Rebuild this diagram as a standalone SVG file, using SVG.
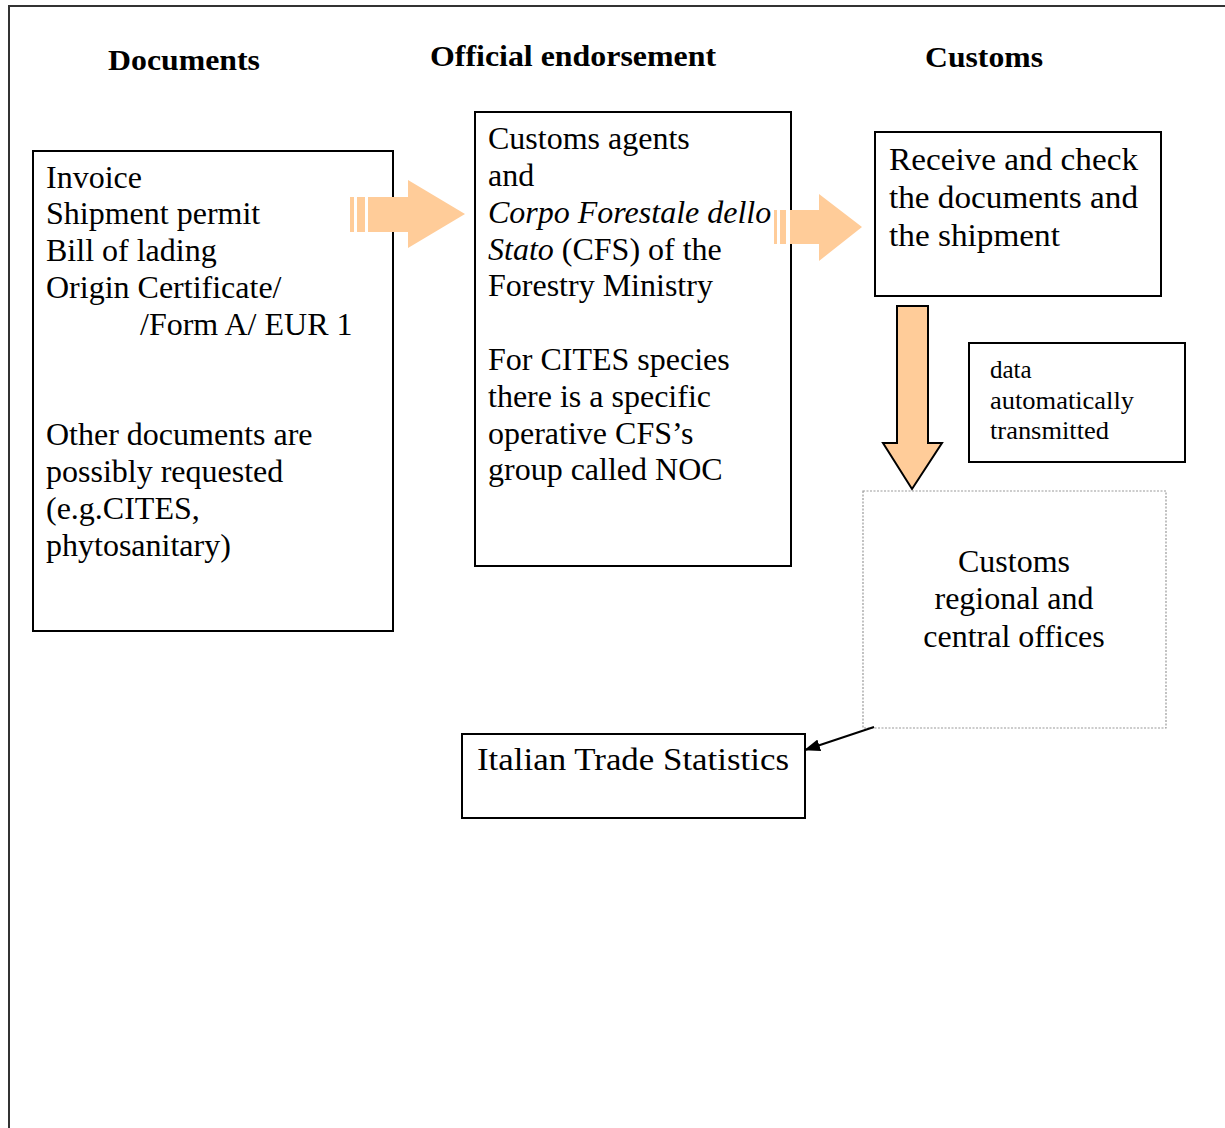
<svg xmlns="http://www.w3.org/2000/svg" width="1225" height="1128" viewBox="0 0 1225 1128">
<defs>
<style>
.t{font-family:"Liberation Serif","Times New Roman",serif;font-size:32px;fill:#000}
.h{font-family:"Liberation Serif","Times New Roman",serif;font-size:29px;font-weight:bold;fill:#000}
.s{font-family:"Liberation Serif","Times New Roman",serif;font-size:25px;fill:#000}
.box{fill:#fff;stroke:#000;stroke-width:2}
.dash{fill:#fff;stroke:#999;stroke-width:1.2;stroke-dasharray:2 1.5}
.ar{fill:#FFCC99}
</style>
<marker id="ah" viewBox="0 0 16 12" refX="15" refY="6" markerWidth="16" markerHeight="12" markerUnits="userSpaceOnUse" orient="auto">
<path d="M0,0 L16,6 L0,12 z" fill="#000"/>
</marker>
</defs>
<rect width="1225" height="1128" fill="#fff"/>
<path d="M9,1128 V6 H1225" fill="none" stroke="#333" stroke-width="2"/>

<g id="headers">
<text class="h" x="108" y="70" textLength="152" lengthAdjust="spacingAndGlyphs">Documents</text>
<text class="h" x="430" y="66" textLength="286" lengthAdjust="spacingAndGlyphs">Official endorsement</text>
<text class="h" x="925" y="67" textLength="118" lengthAdjust="spacingAndGlyphs">Customs</text>
</g>

<g id="documents">
<rect class="box" x="33" y="151" width="360" height="480"/>
<text class="t" x="46" y="188">Invoice</text>
<text class="t" x="46" y="224">Shipment permit</text>
<text class="t" x="46" y="261">Bill of lading</text>
<text class="t" x="46" y="298">Origin Certificate/</text>
<text class="t" x="140" y="335">/Form A/ EUR 1</text>
<text class="t" x="46" y="445">Other documents are</text>
<text class="t" x="46" y="482">possibly requested</text>
<text class="t" x="46" y="519">(e.g.CITES,</text>
<text class="t" x="46" y="556">phytosanitary)</text>
</g>

<g id="endorsement">
<rect class="box" x="475" y="112" width="316" height="454"/>
<text class="t" x="488" y="149">Customs agents</text>
<text class="t" x="488" y="186">and</text>
<text class="t" x="488" y="223"><tspan font-style="italic">Corpo Forestale dello</tspan></text>
<text class="t" x="488" y="260"><tspan font-style="italic">Stato</tspan> (CFS) of the</text>
<text class="t" x="488" y="296">Forestry Ministry</text>
<text class="t" x="488" y="370">For CITES species</text>
<text class="t" x="488" y="407">there is a specific</text>
<text class="t" x="488" y="444">operative CFS’s</text>
<text class="t" x="488" y="480">group called NOC</text>
</g>

<g id="customs-check">
<rect class="box" x="875" y="132" width="286" height="164"/>
<text class="t" x="889" y="170" textLength="249" lengthAdjust="spacingAndGlyphs">Receive and check</text>
<text class="t" x="889" y="208" textLength="249" lengthAdjust="spacingAndGlyphs">the documents and</text>
<text class="t" x="889" y="246" textLength="171" lengthAdjust="spacingAndGlyphs">the shipment</text>
</g>

<g id="data-note">
<rect class="box" x="969" y="343" width="216" height="119"/>
<text class="s" x="990" y="378">data</text>
<text class="s" x="990" y="409" textLength="144" lengthAdjust="spacingAndGlyphs">automatically</text>
<text class="s" x="990" y="439" textLength="119" lengthAdjust="spacingAndGlyphs">transmitted</text>
</g>

<g id="regional-offices">
<rect class="dash" x="863" y="491" width="303" height="237"/>
<text class="t" x="1014" y="572" text-anchor="middle">Customs</text>
<text class="t" x="1014" y="609" text-anchor="middle">regional and</text>
<text class="t" x="1014" y="647" text-anchor="middle">central offices</text>
</g>

<g id="trade-statistics">
<rect class="box" x="462" y="734" width="343" height="84"/>
<text class="t" x="477" y="770" textLength="312" lengthAdjust="spacingAndGlyphs">Italian Trade Statistics</text>
</g>

<g id="connectors">
<g class="ar">
<rect x="350" y="197" width="4" height="35"/>
<rect x="357" y="197" width="8" height="35"/>
<path d="M368,197 H408 V180 L465,214 L408,248 V232 H368 z"/>
</g>
<g class="ar">
<rect x="774" y="210" width="3" height="34"/>
<rect x="780" y="210" width="6" height="34"/>
<path d="M790,210 H819 V194 L862,227 L819,261 V244 H790 z"/>
</g>
<path d="M897,306 H928 V443 H942 L912,489 L883,443 H897 z" fill="#FFCC99" stroke="#000" stroke-width="2" stroke-linejoin="miter"/>
<line x1="874" y1="727" x2="805" y2="750" stroke="#000" stroke-width="2" marker-end="url(#ah)"/>
</g>
</svg>
